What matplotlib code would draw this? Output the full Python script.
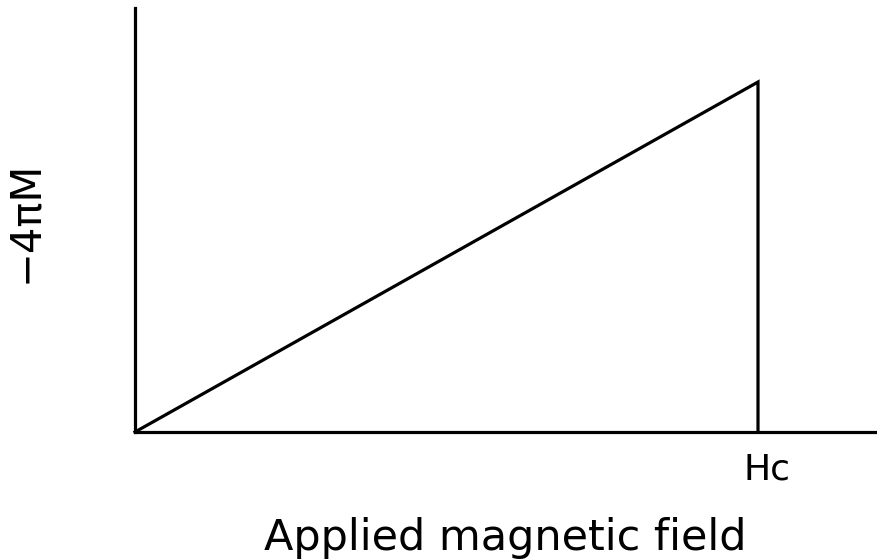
import matplotlib
matplotlib.use("Agg")
import matplotlib.pyplot as plt

# reduced units: field in units of Hc, magnetization in units of -4piM at Hc
field = [0.0, 1.0, 1.0]
magnetization = [0.0, 1.0, 0.0]
hc_label = "Hc"
x_label = "Applied magnetic field"
y_label = "\u22124\u03c0M"

W, H = 878, 560
fig = plt.figure(figsize=(W / 100, H / 100), dpi=100)
ax = fig.add_axes([135 / W, (H - 432) / H, (878 - 135) / W, (432 - 8) / H])

lw = 2.3
ax.plot(field, magnetization, color="black", lw=lw, solid_joinstyle="miter",
        clip_on=False)
ax.set_xlim(0, 743 / 623)
ax.set_ylim(0, 424 / 350)

for side in ("top", "right"):
    ax.spines[side].set_visible(False)
for side in ("left", "bottom"):
    ax.spines[side].set_linewidth(lw)
ax.set_xticks([])
ax.set_yticks([])

ax.annotate(hc_label, (field[1], 0), xytext=(9, -48), textcoords="offset pixels",
            ha="center", va="baseline", fontsize=26)
fig.text(505 / W, 1 - 550 / H, x_label, ha="center", va="baseline", fontsize=31)
fig.text(25 / W, 1 - 222 / H, y_label, ha="center", va="center", fontsize=30,
         rotation=90)

fig.savefig("out.png", dpi=100)
